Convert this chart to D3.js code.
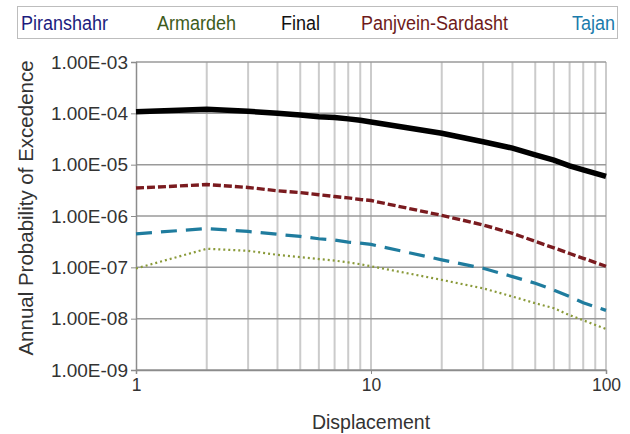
<!DOCTYPE html>
<html>
<head>
<meta charset="utf-8">
<script src="https://cdn.jsdelivr.net/npm/d3@7"></script>
<style>
  body { margin: 0; background: #fff; }
  svg { font-family: "Liberation Sans", Arial, sans-serif; }
</style>
</head>
<body>
<svg id="chart" width="630" height="434"></svg>
<script>
// displacement values where each curve is sampled
const displacement = [1, 2, 3, 4, 5, 6, 7, 8, 9, 10, 20, 30, 40, 50, 60, 70, 80, 100];

const finalVals   = [1.07e-4, 1.2e-4, 1.1e-4, 1.0e-4, 9.3e-5, 8.6e-5, 8.3e-5, 7.8e-5, 7.3e-5, 6.8e-5, 4.1e-5, 2.8e-5, 2.1e-5, 1.55e-5, 1.23e-5, 9.5e-6, 7.9e-6, 5.9e-6];
const panjveinVals = [3.5e-6, 4.1e-6, 3.6e-6, 3.1e-6, 2.85e-6, 2.6e-6, 2.4e-6, 2.25e-6, 2.1e-6, 2.0e-6, 1.03e-6, 6.7e-7, 4.6e-7, 3.2e-7, 2.4e-7, 1.86e-7, 1.5e-7, 1.05e-7];
const tajanVals    = [4.5e-7, 5.7e-7, 5.0e-7, 4.4e-7, 4.0e-7, 3.6e-7, 3.4e-7, 3.1e-7, 2.95e-7, 2.8e-7, 1.4e-7, 9.6e-8, 6.6e-8, 4.9e-8, 3.6e-8, 2.7e-8, 2.05e-8, 1.45e-8];
const armardehVals = [9.5e-8, 2.3e-7, 2.1e-7, 1.75e-7, 1.58e-7, 1.45e-7, 1.35e-7, 1.25e-7, 1.15e-7, 1.05e-7, 5.7e-8, 3.9e-8, 2.7e-8, 2.0e-8, 1.6e-8, 1.17e-8, 9.3e-9, 6.3e-9];

const legendNames = ['Piranshahr', 'Armardeh', 'Final', 'Panjvein-Sardasht', 'Tajan'];
const legendColors = ['#1c1c7e', '#3d5c1c', '#111111', '#6e1a1a', '#1a7bab'];
const legendX = [21, 157, 281, 361, 572];

const yTicks = [1e-3, 1e-4, 1e-5, 1e-6, 1e-7, 1e-8, 1e-9];
const xTicks = [1, 10, 100];

const margin = {top: 62, right: 24, bottom: 64, left: 136},
  width = 630 - margin.left - margin.right,
  height = 434 - margin.top - margin.bottom;

const svg = d3.select('#chart');

// legend box
svg.append('rect')
  .attr('x', 17.5).attr('y', 6.5)
  .attr('width', 600).attr('height', 32)
  .attr('fill', '#fff')
  .attr('stroke', '#bdbdbd');

legendNames.forEach((n, i) => {
  svg.append('text')
    .attr('transform', `translate(${legendX[i]},30) scale(1,1.12)`)
    .attr('font-size', 18)
    .attr('fill', legendColors[i])
    .text(n);
});

const x = d3.scaleLog().domain([1, 100]).range([0, width]);
const y = d3.scaleLog().domain([1e-9, 1e-3]).range([height, 0]);

const chart = svg.append('g')
  .attr('transform', `translate(${margin.left}, ${margin.top})`);

// vertical grid (every integer step in each decade)
const vGrid = d3.range(2, 10).concat(d3.range(10, 101, 10));
chart.selectAll('.vgrid')
  .data(vGrid)
  .enter().append('line')
  .attr('class', 'vgrid')
  .attr('x1', d => x(d)).attr('x2', d => x(d))
  .attr('y1', 0).attr('y2', height)
  .attr('stroke', '#cbcbcb')
  .attr('stroke-width', 2);

// horizontal grid at decades
chart.selectAll('.hgrid')
  .data(yTicks)
  .enter().append('line')
  .attr('class', 'hgrid')
  .attr('x1', 0).attr('x2', width)
  .attr('y1', d => y(d)).attr('y2', d => y(d))
  .attr('stroke', '#9a9a9a')
  .attr('stroke-width', 1.5);

// axes
const yAxis = chart.append('g')
  .call(d3.axisLeft(y).tickValues(yTicks).tickSize(5).tickPadding(3)
    .tickFormat(d => d.toExponential(2).toUpperCase().replace(/E-(\d)$/, 'E-0$1')));
const xAxis = chart.append('g')
  .attr('transform', `translate(0,${height})`)
  .call(d3.axisBottom(x).tickValues(xTicks).tickSize(4).tickPadding(5)
    .tickFormat(d3.format('d')));

[yAxis, xAxis].forEach(a => {
  a.select('.domain').attr('stroke', '#8c8c8c').attr('stroke-width', 1.5);
  a.selectAll('.tick line').attr('stroke', '#8c8c8c');
  a.selectAll('text')
    .attr('font-family', '"Liberation Sans", Arial, sans-serif')
    .attr('font-size', 19)
    .attr('fill', '#333');
});
xAxis.selectAll('text').attr('font-size', 17.5);

// series lines
const series = [
  {vals: armardehVals, color: '#8a9a3a', w: 2.2, dash: '2,3'},
  {vals: tajanVals, color: '#1f7c9e', w: 3.2, dash: '16,9'},
  {vals: panjveinVals, color: '#7a1b1f', w: 3.4, dash: '8,3'},
  {vals: finalVals, color: '#000', w: 5.5, dash: null}
];

const line = d3.line()
  .x((d, i) => x(displacement[i]))
  .y(d => y(d));

series.forEach(s => {
  chart.append('path')
    .datum(s.vals)
    .attr('d', line)
    .attr('fill', 'none')
    .attr('stroke', s.color)
    .attr('stroke-width', s.w)
    .attr('stroke-dasharray', s.dash);
});

// axis titles
svg.append('text')
  .attr('x', margin.left + width / 2).attr('y', 429)
  .attr('text-anchor', 'middle')
  .attr('font-size', 19.5)
  .attr('fill', '#333')
  .text('Displacement');

svg.append('text')
  .attr('transform', `translate(33, ${208}) rotate(-90)`)
  .attr('text-anchor', 'middle')
  .attr('font-size', 20.5)
  .attr('fill', '#333')
  .text('Annual Probability of Excedence');
</script>
</body>
</html>
